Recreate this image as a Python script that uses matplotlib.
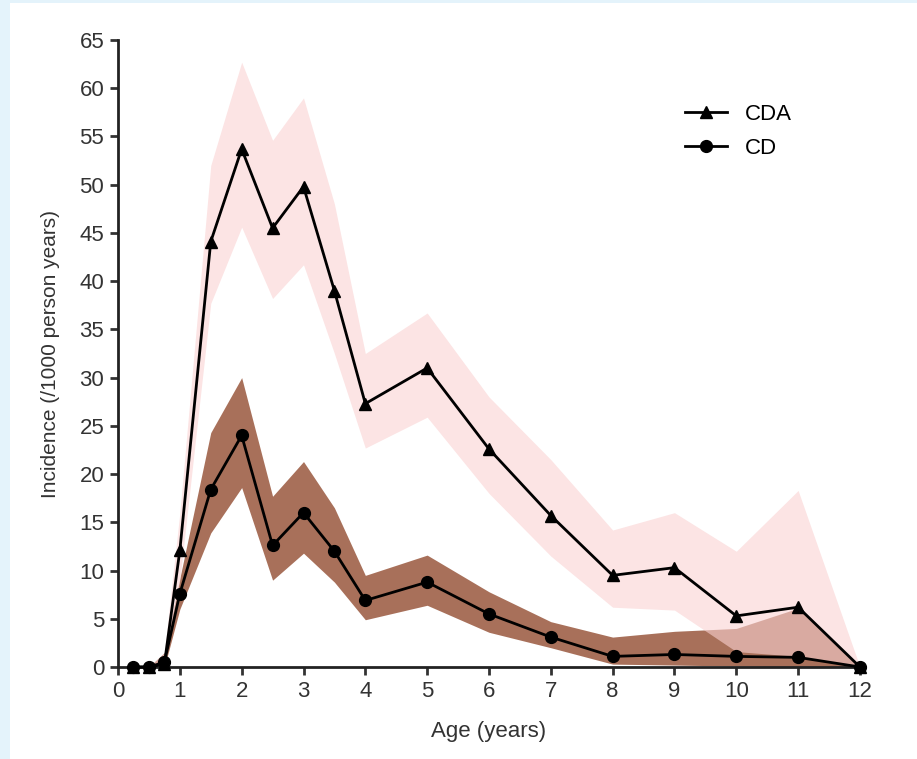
import numpy as np
import matplotlib
matplotlib.use("Agg")
import matplotlib.pyplot as plt
from matplotlib.patches import Rectangle

# Age points (years)
age = [0.25, 0.5, 0.75, 1, 1.5, 2, 2.5, 3, 3.5, 4, 5, 6, 7, 8, 9, 10, 11, 12]

# CDA incidence and confidence band
cda = [0, 0, 0.3, 12.1, 44.1, 53.7, 45.5, 49.8, 39.0, 27.3, 31.0, 22.6, 15.7, 9.5, 10.3, 5.3, 6.2, 0]
cda_hi = [0, 0, 1.5, 16.0, 52.0, 62.7, 54.6, 59.0, 48.0, 32.5, 36.7, 28.0, 21.5, 14.2, 16.0, 12.0, 18.3, 0]
cda_lo = [0, 0, 0, 9.0, 37.7, 45.6, 38.2, 41.7, 32.5, 22.7, 25.9, 18.0, 11.5, 6.2, 5.9, 1.6, 1.1, 0]

# CD incidence and confidence band
cd = [0, 0, 0.5, 7.6, 18.4, 24.0, 12.6, 16.0, 12.0, 6.9, 8.8, 5.5, 3.1, 1.1, 1.3, 1.1, 1.0, 0]
cd_hi = [0, 0, 1.5, 9.2, 24.3, 30.0, 17.7, 21.3, 16.5, 9.5, 11.6, 7.8, 4.7, 3.1, 3.7, 4.0, 6.1, 0]
cd_lo = [0, 0, 0, 6.0, 13.9, 18.6, 9.0, 11.8, 8.8, 4.9, 6.4, 3.6, 2.0, 0.3, 0.2, 0.1, 0.0, 0]

plt.rcParams.update({
    "font.family": ["Liberation Sans", "DejaVu Sans"],
    "axes.linewidth": 2.0,
    "xtick.major.width": 2.0,
    "ytick.major.width": 2.0,
    "xtick.major.size": 6,
    "ytick.major.size": 6,
    "xtick.color": "#333333",
    "ytick.color": "#333333",
})

fig = plt.figure(figsize=(9.17, 7.59), dpi=100)
fig.patch.set_facecolor("white")
# light blue frame on left and top edges
fig.patches.append(Rectangle((0, 0), 10 / 917, 1, transform=fig.transFigure,
                             facecolor="#e4f3fb", edgecolor="none", zorder=0))
fig.patches.append(Rectangle((0, 1 - 3 / 759), 1, 3 / 759, transform=fig.transFigure,
                             facecolor="#e4f3fb", edgecolor="none", zorder=0))

ax = fig.add_axes([0.1287, 0.1212, 0.8091, 0.8261])

ax.fill_between(age, cd_lo, cd_hi, color="#a8705a", linewidth=0, zorder=1)
ax.fill_between(age, cda_lo, cda_hi, color="#fad2d2", alpha=0.6, linewidth=0, zorder=2)

ax.plot(age, cda, color="black", linewidth=2.0, marker="^", markersize=8.5,
        label="CDA", zorder=4)
ax.plot(age, cd, color="black", linewidth=2.0, marker="o", markersize=8.5,
        label="CD", zorder=4)

ax.set_xlim(0, 12)
ax.set_ylim(0, 65)
ax.set_xticks(range(0, 13))
ax.set_yticks(range(0, 66, 5))
ax.tick_params(labelsize=16, pad=4)
for s in ["top", "right"]:
    ax.spines[s].set_visible(False)
ax.spines["left"].set_color("#222222")
ax.spines["bottom"].set_color("#222222")
for ln in ax.lines:
    ln.set_clip_on(False)

ax.set_xlabel("Age (years)", fontsize=16, color="#333333", labelpad=14)
ax.set_ylabel("Incidence (/1000 person years)", fontsize=15, color="#333333", labelpad=14)

leg = ax.legend(loc="upper right", bbox_to_anchor=(0.935, 0.93), frameon=False,
                fontsize=16, handlelength=1.9, labelspacing=0.6, handletextpad=0.8)

fig.savefig("out.png", dpi=100)
